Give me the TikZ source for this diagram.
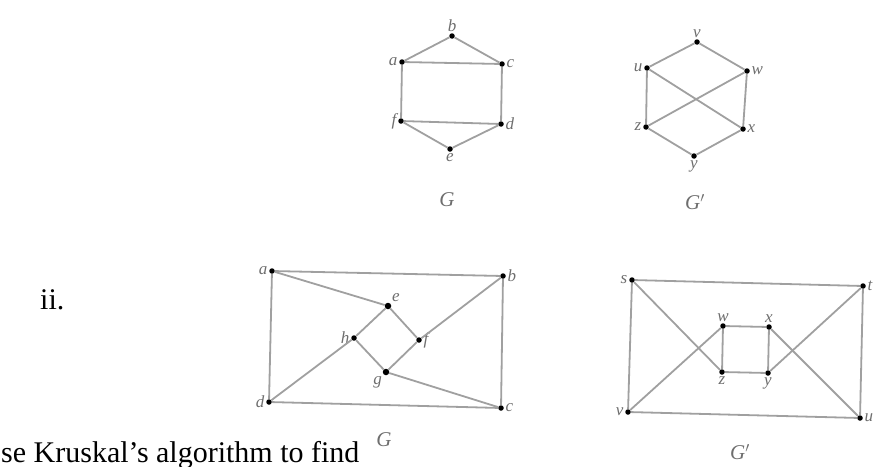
\documentclass[tikz,border=0pt]{standalone}
\usepackage{fontspec}
\setmainfont{Liberation Serif}
\usetikzlibrary{positioning}
\definecolor{edgegray}{RGB}{160,160,160}
\definecolor{lblgray}{RGB}{110,110,110}

\begin{document}
\begin{tikzpicture}[
    x=1pt,y=-1pt,
    vtx/.style={circle,fill=black,inner sep=0pt,minimum size=5.5pt},
    edge/.style={edgegray,line width=1.8pt},
    lbl/.style={text=lblgray,font=\fontsize{17}{17}\selectfont\itshape,inner sep=1.5pt},
    gname/.style={text=lblgray,font=\fontsize{21}{21}\selectfont\itshape},
    body/.style={font=\fontsize{30}{30}\selectfont,inner sep=0pt}
]
  \useasboundingbox (0,0) rectangle (882,466);

  % Item number and cut-off line of text
  \node[body,anchor=base west] (item) at (40,309) {ii.};
  \node[body,anchor=base west] (task) at (1,462) {se Kruskal's algorithm to find};

  % Top left: G
  \node[vtx,label={[lbl]above:b}] (tb) at (452,36) {};
  \node[vtx,label={[lbl]left:a}] (ta) at (402,62) {};
  \node[vtx,label={[lbl]right:c}] (tc) at (502,64) {};
  \node[vtx,label={[lbl]left:f}] (tf) at (401,121) {};
  \node[vtx,label={[lbl]right:d}] (td) at (501,124) {};
  \node[vtx,label={[lbl]below:e}] (te) at (450,149) {};
  \node[gname] (tG) at (447,200) {G};

  \draw[edge] (ta) -- (tb) -- (tc) -- (ta);
  \draw[edge] (ta) -- (tf) -- (td) -- (tc);
  \draw[edge] (tf) -- (te) -- (td);

  % Top right: G'
  \node[vtx,label={[lbl]above:v}] (tv) at (697,42) {};
  \node[vtx,label={[lbl]left:u}] (tu) at (647,68) {};
  \node[vtx,label={[lbl]right:w}] (tw) at (747,71) {};
  \node[vtx,label={[lbl]left:z}] (tz) at (646,127) {};
  \node[vtx,label={[lbl]right:x}] (tx) at (743,129) {};
  \node[vtx,label={[lbl]below:y}] (ty) at (694,156) {};
  \node[gname] (tGp) at (695,202) {G$'$};

  \draw[edge] (tu) -- (tv) -- (tw) -- (tx) -- (ty) -- (tz) -- (tu);
  \draw[edge] (tu) -- (tx);
  \draw[edge] (tw) -- (tz);

  % Bottom left: G
  \node[vtx,label={[lbl]left:a}] (ba) at (272,271) {};
  \node[vtx,label={[lbl]right:b}] (bb) at (503,276) {};
  \node[vtx,label={[lbl]right:c}] (bc) at (501,408) {};
  \node[vtx,label={[lbl]left:d}] (bd) at (269,402) {};
  \node[vtx,minimum size=6.5pt,label={[lbl]above right:e}] (be) at (388,306) {};
  \node[vtx,label={[lbl]right:f}] (bf) at (419,340) {};
  \node[vtx,minimum size=6.5pt,label={[lbl]below left:g}] (bg) at (386,372) {};
  \node[vtx,label={[lbl]left:h}] (bh) at (354,338) {};
  \node[gname] (bG) at (384,440) {G};

  \draw[edge] (ba) -- (bb) -- (bc) -- (bd) -- (ba);
  \draw[edge] (ba) -- (be) -- (bf) -- (bg) -- (bh) -- (be);
  \draw[edge] (bh) -- (bd);
  \draw[edge] (bf) -- (bb);
  \draw[edge] (bg) -- (bc);

  % Bottom right: G'
  \node[vtx,label={[lbl]left:s}] (bs) at (632,280) {};
  \node[vtx,label={[lbl]right:t}] (bt) at (863,286) {};
  \node[vtx,label={[lbl]right:u}] (bu) at (860,418) {};
  \node[vtx,label={[lbl]left:v}] (bv) at (628,412) {};
  \node[vtx,label={[lbl]above:w}] (bw) at (723,326) {};
  \node[vtx,label={[lbl]above:x}] (bx) at (769,327) {};
  \node[vtx,label={[lbl]below:z}] (bz) at (722,372) {};
  \node[vtx,label={[lbl]below:y}] (by) at (768,373) {};
  \node[gname] (bGp) at (740,452) {G$'$};

  \draw[edge] (bs) -- (bt) -- (bu) -- (bv) -- (bs);
  \draw[edge] (bw) -- (bx) -- (by) -- (bz) -- (bw);
  \draw[edge] (bs) -- (bz);
  \draw[edge] (bv) -- (bw);
  \draw[edge] (bx) -- (bu);
  \draw[edge] (bt) -- (by);
\end{tikzpicture}
\end{document}
